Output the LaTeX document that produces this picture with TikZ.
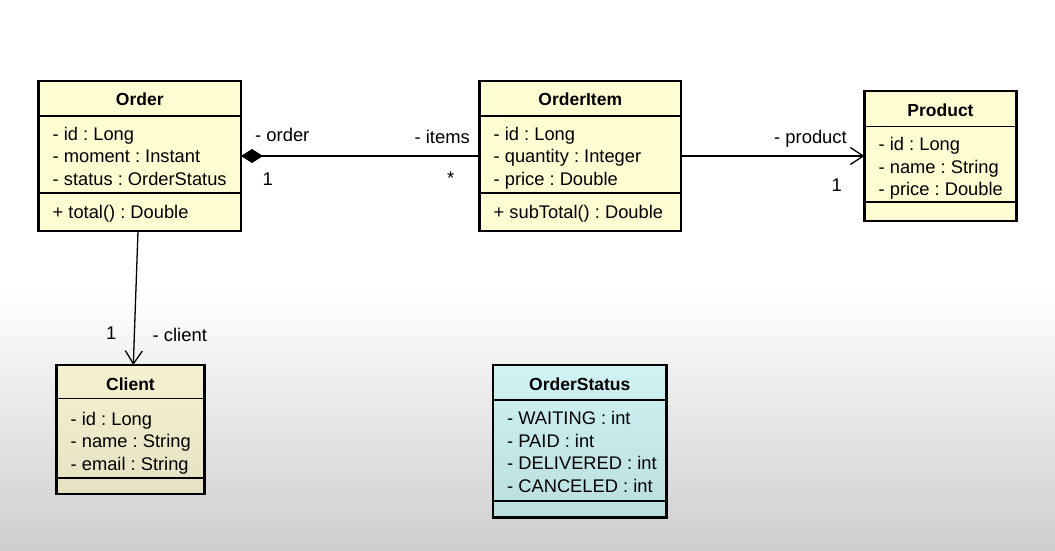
\documentclass[tikz,border=0pt]{standalone}
\usepackage{fontspec}
\setmainfont{Liberation Sans}
\usetikzlibrary{arrows.meta}
\frenchspacing
\definecolor{umlyellow}{RGB}{255,253,210}
\definecolor{clientTop}{RGB}{244,242,208}
\definecolor{clientBot}{RGB}{228,226,194}
\definecolor{statusTop}{RGB}{208,243,243}
\definecolor{statusBot}{RGB}{186,222,222}
\definecolor{bggrey}{RGB}{206,206,206}
\begin{document}
\begin{tikzpicture}[x=1pt,y=-1pt,
  cls/.style={draw=black, line width=2.8pt, inner sep=0pt, outer sep=0pt},
  sepline/.style={draw=black, line width=1.8pt},
  ttl/.style={font=\frenchspacing\bfseries\fontsize{17.5}{20}\selectfont, anchor=base, inner sep=0pt},
  attr/.style={font=\frenchspacing\fontsize{18.3}{22}\selectfont, anchor=base west, inner sep=0pt},
  lbl/.style={font=\frenchspacing\fontsize{18.4}{22}\selectfont, inner sep=0pt},
  conn/.style={draw=black, line width=1.3pt},
  openarrow/.style={-{Straight Barb[length=13pt,width=17pt,line width=1.3pt]}}
]
\useasboundingbox (0,0) rectangle (1055,550);
\fill[white] (0,0) rectangle (1055,290);
\shade[top color=white, bottom color=bggrey] (0,290) rectangle (1055,550);

% ---------- Order ----------
\node[cls, fill=umlyellow, minimum width=202.5pt, minimum height=150pt] (order) at (139.75,156) {};
\draw[sepline] ([yshift=-35pt]order.north west) -- ([yshift=-35pt]order.north east);
\draw[sepline] ([yshift=-112pt]order.north west) -- ([yshift=-112pt]order.north east);
\node[ttl] (orderT) at (139.75,105) {Order};
\node[attr] (orderA1) at (52.5,140) {- id : Long};
\node[attr] (orderA2) at (52.5,162.7) {- moment : Instant};
\node[attr] (orderA3) at (52.5,185.4) {- status : OrderStatus};
\node[attr] (orderM1) at (52.5,218.5) {+ total() : Double};

% ---------- OrderItem ----------
\node[cls, fill=umlyellow, minimum width=201.5pt, minimum height=150pt] (item) at (580.25,156) {};
\draw[sepline] ([yshift=-35pt]item.north west) -- ([yshift=-35pt]item.north east);
\draw[sepline] ([yshift=-112pt]item.north west) -- ([yshift=-112pt]item.north east);
\node[ttl] (itemT) at (580.25,105) {OrderItem};
\node[attr] (itemA1) at (493.5,140) {- id : Long};
\node[attr] (itemA2) at (493.5,162.7) {- quantity : Integer};
\node[attr] (itemA3) at (493.5,185.4) {- price : Double};
\node[attr] (itemM1) at (493.5,218.5) {+ subTotal() : Double};

% ---------- Product ----------
\node[cls, fill=umlyellow, minimum width=152pt, minimum height=130pt] (product) at (940.5,156) {};
\draw[sepline] ([yshift=-35.5pt]product.north west) -- ([yshift=-35.5pt]product.north east);
\draw[sepline] ([yshift=-111pt]product.north west) -- ([yshift=-111pt]product.north east);
\node[ttl] (productT) at (940.5,116.5) {Product};
\node[attr] (productA1) at (878.5,150.7) {- id : Long};
\node[attr] (productA2) at (878.5,173.2) {- name : String};
\node[attr] (productA3) at (878.5,195.7) {- price : Double};

% ---------- Client ----------
\node[cls, top color=clientTop, bottom color=clientBot, minimum width=148pt, minimum height=129pt] (client) at (130.5,429.5) {};
\draw[sepline] ([yshift=-33.5pt]client.north west) -- ([yshift=-33.5pt]client.north east);
\draw[sepline] ([yshift=-113pt]client.north west) -- ([yshift=-113pt]client.north east);
\node[ttl] (clientT) at (130.5,390.5) {Client};
\node[attr] (clientA1) at (70.5,425) {- id : Long};
\node[attr] (clientA2) at (70.5,447.5) {- name : String};
\node[attr] (clientA3) at (70.5,470) {- email : String};

% ---------- OrderStatus ----------
\node[cls, top color=statusTop, bottom color=statusBot, minimum width=173.5pt, minimum height=152.5pt] (status) at (579.75,441.25) {};
\draw[sepline] ([yshift=-35pt]status.north west) -- ([yshift=-35pt]status.north east);
\draw[sepline] ([yshift=-136pt]status.north west) -- ([yshift=-136pt]status.north east);
\node[ttl] (statusT) at (579.75,390.5) {OrderStatus};
\node[attr] (statusA1) at (507,424.5) {- WAITING : int};
\node[attr] (statusA2) at (507,447) {- PAID : int};
\node[attr] (statusA3) at (507,469.5) {- DELIVERED : int};
\node[attr] (statusA4) at (507,492) {- CANCELED : int};

% ---------- Connectors ----------
\draw[conn, {Diamond[length=22pt,width=14pt]}-] (order.east) -- (item.west);
\draw[conn, openarrow] (item.east) -- (product.west);
\draw[conn, openarrow] ([xshift=-1.75pt]order.south) -- ([xshift=2.8pt]client.north);

% ---------- Labels ----------
\node[lbl, anchor=base west] (lOrder) at (255,141.5) {- order};
\node[lbl, anchor=base west] (lOrderM) at (262.5,185.5) {1};
\node[lbl, anchor=base east] (lItems) at (470,143) {- items};
\node[lbl, anchor=base west] (lItemsM) at (447,184.5) {*};
\node[lbl, anchor=base east] (lProduct) at (847,143.5) {- product};
\node[lbl, anchor=base west] (lProductM) at (831.5,191.5) {1};
\node[lbl, anchor=base west] (lClientM) at (106,339) {1};
\node[lbl, anchor=base west] (lClient) at (152.5,341.5) {- client};
\end{tikzpicture}
\end{document}
